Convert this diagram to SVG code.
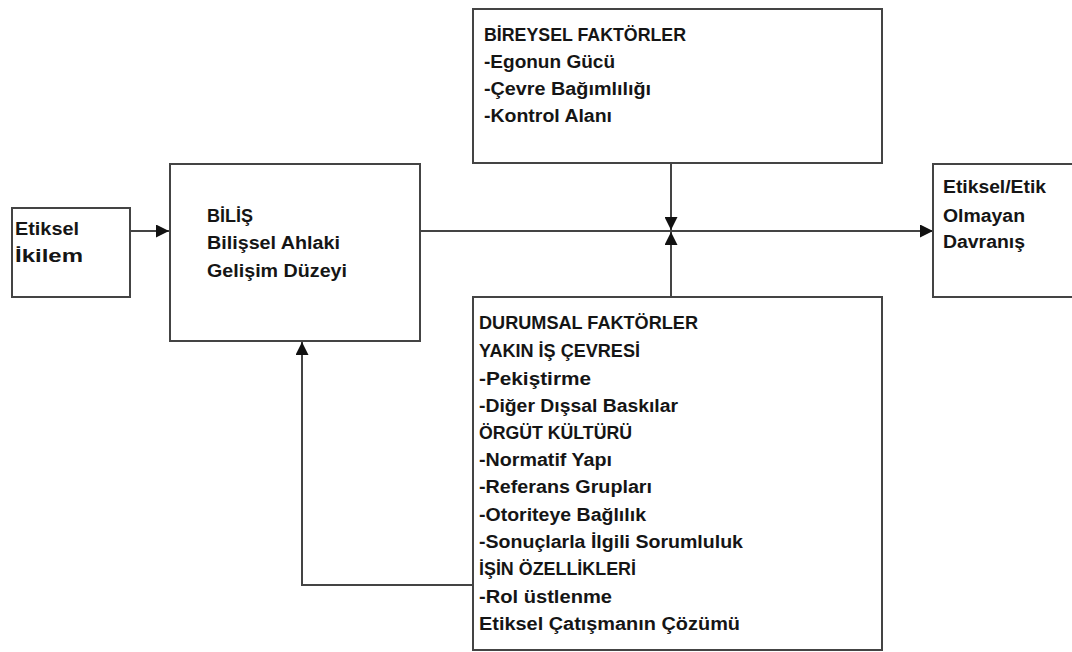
<svg xmlns="http://www.w3.org/2000/svg" width="1072" height="652" viewBox="0 0 1072 652">
  <style>
    .box { fill: #ffffff; stroke: #444444; stroke-width: 2; }
    .wire { fill: none; stroke: #444444; stroke-width: 2; }
    .lbl { font-family: "Liberation Sans", Arial, sans-serif; font-size: 18px; font-weight: bold; fill: #151515; }
  </style>
  <defs>
    <marker id="arrow" viewBox="0 0 14 14" refX="14" refY="7" markerWidth="14" markerHeight="13" markerUnits="userSpaceOnUse" orient="auto">
      <path d="M0,0 L14,7 L0,14 Z" fill="#111111"/>
    </marker>
  </defs>

  <rect width="1072" height="652" fill="#ffffff"/>

  <!-- connectors -->
  <g id="connectors">
    <line class="wire" x1="130" y1="231" x2="169" y2="231" marker-end="url(#arrow)"/>
    <line class="wire" x1="420" y1="231" x2="933" y2="231" marker-end="url(#arrow)"/>
    <line class="wire" x1="671" y1="163" x2="671" y2="230" marker-end="url(#arrow)"/>
    <line class="wire" x1="671" y1="297" x2="671" y2="232" marker-end="url(#arrow)"/>
    <polyline class="wire" points="473,585 302,585 302,342" marker-end="url(#arrow)"/>
  </g>

  <!-- ethical dilemma -->
  <g id="node-ikilem">
    <rect class="box" x="12" y="208" width="118" height="89"/>
    <text class="lbl" x="15" y="235" textLength="64" lengthAdjust="spacingAndGlyphs">Etiksel</text>
    <text class="lbl" x="15" y="262" textLength="68" lengthAdjust="spacingAndGlyphs">İkilem</text>
  </g>

  <!-- cognition -->
  <g id="node-bilis">
    <rect class="box" x="170" y="164" width="250" height="177"/>
    <text class="lbl" x="207" y="222" textLength="46" lengthAdjust="spacingAndGlyphs">BİLİŞ</text>
    <text class="lbl" x="207" y="249" textLength="133" lengthAdjust="spacingAndGlyphs">Bilişsel Ahlaki</text>
    <text class="lbl" x="207" y="277" textLength="140" lengthAdjust="spacingAndGlyphs">Gelişim Düzeyi</text>
  </g>

  <!-- individual factors -->
  <g id="node-bireysel">
    <rect class="box" x="473" y="9" width="409" height="154"/>
    <text class="lbl" x="484" y="41" textLength="202" lengthAdjust="spacingAndGlyphs">BİREYSEL FAKTÖRLER</text>
    <text class="lbl" x="484" y="68" textLength="131" lengthAdjust="spacingAndGlyphs">-Egonun Gücü</text>
    <text class="lbl" x="484" y="95" textLength="167" lengthAdjust="spacingAndGlyphs">-Çevre Bağımlılığı</text>
    <text class="lbl" x="484" y="122" textLength="128" lengthAdjust="spacingAndGlyphs">-Kontrol Alanı</text>
  </g>

  <!-- situational factors -->
  <g id="node-durumsal">
    <rect class="box" x="473" y="297" width="409" height="353"/>
    <text class="lbl" x="479" y="329" textLength="219" lengthAdjust="spacingAndGlyphs">DURUMSAL FAKTÖRLER</text>
    <text class="lbl" x="479" y="357" textLength="161" lengthAdjust="spacingAndGlyphs">YAKIN İŞ ÇEVRESİ</text>
    <text class="lbl" x="479" y="385" textLength="112" lengthAdjust="spacingAndGlyphs">-Pekiştirme</text>
    <text class="lbl" x="479" y="412" textLength="199" lengthAdjust="spacingAndGlyphs">-Diğer Dışsal Baskılar</text>
    <text class="lbl" x="479" y="439" textLength="153" lengthAdjust="spacingAndGlyphs">ÖRGÜT KÜLTÜRÜ</text>
    <text class="lbl" x="479" y="466" textLength="133" lengthAdjust="spacingAndGlyphs">-Normatif Yapı</text>
    <text class="lbl" x="479" y="493" textLength="173" lengthAdjust="spacingAndGlyphs">-Referans Grupları</text>
    <text class="lbl" x="479" y="521" textLength="167" lengthAdjust="spacingAndGlyphs">-Otoriteye Bağlılık</text>
    <text class="lbl" x="479" y="548" textLength="264" lengthAdjust="spacingAndGlyphs">-Sonuçlarla İlgili Sorumluluk</text>
    <text class="lbl" x="479" y="575" textLength="157" lengthAdjust="spacingAndGlyphs">İŞİN ÖZELLİKLERİ</text>
    <text class="lbl" x="479" y="603" textLength="133" lengthAdjust="spacingAndGlyphs">-Rol üstlenme</text>
    <text class="lbl" x="479" y="630" textLength="261" lengthAdjust="spacingAndGlyphs">Etiksel Çatışmanın Çözümü</text>
  </g>

  <!-- resulting behaviour -->
  <g id="node-davranis">
    <rect class="box" x="933" y="164" width="150" height="133"/>
    <text class="lbl" x="943" y="193" textLength="103" lengthAdjust="spacingAndGlyphs">Etiksel/Etik</text>
    <text class="lbl" x="943" y="222" textLength="82" lengthAdjust="spacingAndGlyphs">Olmayan</text>
    <text class="lbl" x="943" y="248" textLength="82" lengthAdjust="spacingAndGlyphs">Davranış</text>
  </g>
</svg>
